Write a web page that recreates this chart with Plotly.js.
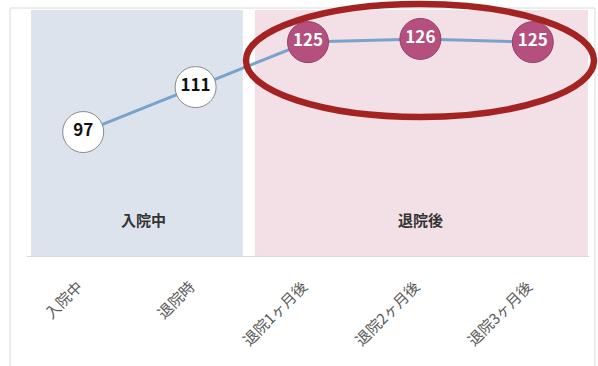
<!DOCTYPE html>
<html><head><meta charset="utf-8">
<script src="https://cdn.plot.ly/plotly-3.0.1.min.js"></script>
<style>html,body{margin:0;padding:0;background:#fff;}#c{width:598px;height:366px;}</style>
</head><body><div id="c"></div>
<script>
const categories = ['入院中','退院時','退院1ヶ月後','退院2ヶ月後','退院3ヶ月後'];
const values = [97, 111, 125, 126, 125];
const groupLabels = ['入院中','退院後'];
const groupStart = [0, 2];
const groupEnd = [1, 4];
const highlighted = [false, false, true, true, true];

const W = 598, H = 366;
const m = {l: 27, r: 9, t: 10, b: 110};
const pw = W - m.l - m.r, ph = H - m.t - m.b;
const px = x => (x - m.l) / pw;
const py = y => (H - m.b - y) / ph;

const fill = highlighted.map(h => h ? '#b5507e' : '#ffffff');
const edge = highlighted.map(h => h ? '#94406a' : '#8a8a8a');
const tcol = highlighted.map(h => h ? '#ffffff' : '#111111');

const bandColors = ['#dce3ec', '#f2e0e6'];
const bandLeft = [0.464, 0.473];
const bandRight = [0.42, 0.49];
const shapes = groupLabels.map((g, i) => ({
  type: 'rect', xref: 'x', yref: 'paper', layer: 'below',
  x0: groupStart[i] - bandLeft[i], x1: groupEnd[i] + bandRight[i],
  y0: 0, y1: 1, fillcolor: bandColors[i], line: {width: 0}
}));
// outer frame
shapes.push({type: 'rect', xref: 'paper', yref: 'paper', layer: 'below',
  x0: px(10), x1: px(595), y0: py(400), y1: py(8), line: {color: '#d9d9d9', width: 1}, fillcolor: 'rgba(0,0,0,0)'});
// highlight ellipse
shapes.push({type: 'circle', xref: 'paper', yref: 'paper', layer: 'above',
  x0: px(246), x1: px(594), y0: py(117), y1: py(4), line: {color: '#a32323', width: 6.5}});

const annotations = groupLabels.map((g, i) => ({
  x: (groupStart[i] + groupEnd[i]) / 2 + (i === 0 ? 0.04 : 0), xref: 'x', y: py(232), yref: 'paper',
  text: '<b>' + g + '</b>', showarrow: false,
  font: {family: 'Noto Sans CJK JP', size: 15, color: '#333333'}
}));

const trace = {
  x: categories, y: values, type: 'scatter', mode: 'lines+markers+text',
  line: {color: '#7aa3cc', width: 3},
  marker: {size: 41, color: fill, line: {color: edge, width: 1}, opacity: 1},
  text: values.map(v => '<b>' + v + '</b>'), textposition: 'middle center',
  textfont: {family: 'Noto Sans CJK JP, DejaVu Sans', size: 17, color: tcol},
  cliponaxis: false, hoverinfo: 'skip'
};

Plotly.newPlot('c', [trace], {
  width: W, height: H, margin: m,
  paper_bgcolor: '#ffffff', plot_bgcolor: 'rgba(0,0,0,0)',
  showlegend: false,
  xaxis: {type: 'category', range: [-0.5, 4.5], showgrid: false, zeroline: false,
    showline: true, linecolor: '#d9d9d9', linewidth: 1,
    ticks: 'outside', ticklen: 15, tickcolor: 'rgba(0,0,0,0)', tickangle: -45,
    ticklabelshift: -5,
    tickfont: {family: 'Noto Sans CJK JP', size: 15, color: '#595959'}},
  yaxis: {range: [58.4, 135], showgrid: false, zeroline: false, showticklabels: false, showline: false},
  shapes: shapes, annotations: annotations
}, {staticPlot: true});
</script></body></html>
